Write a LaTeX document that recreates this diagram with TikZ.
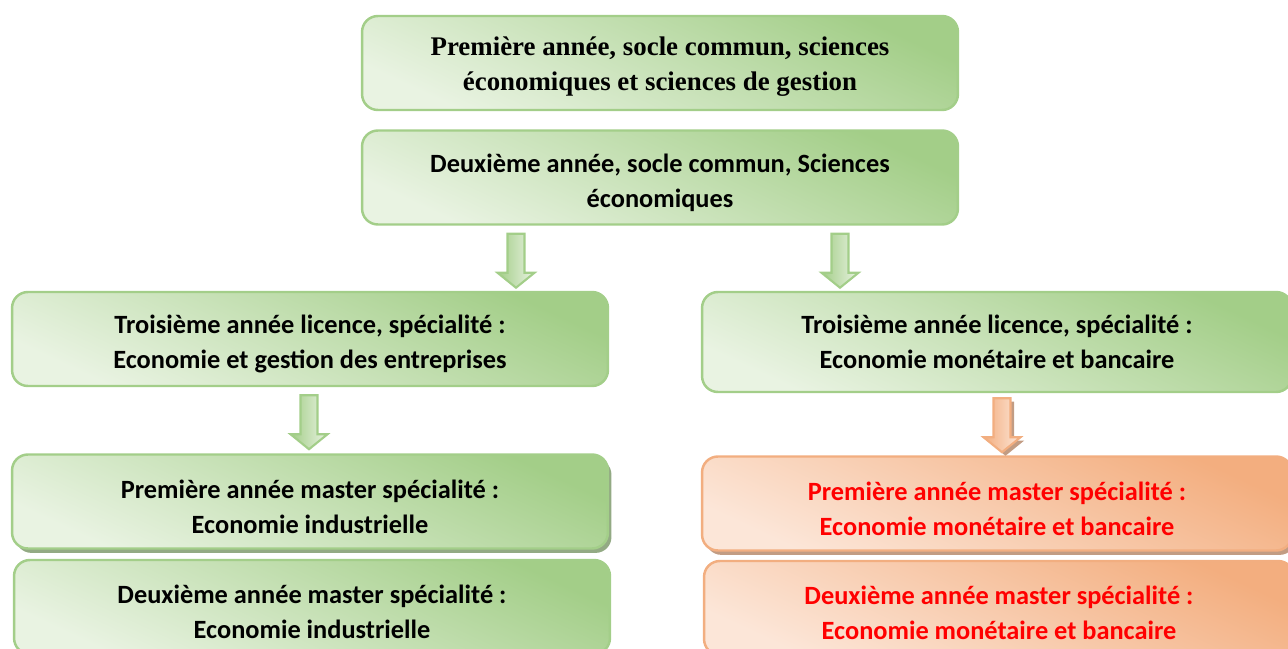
\documentclass[tikz,border=0pt]{standalone}
\usepackage{fontspec}
\setmainfont{Carlito}
\newfontfamily\timesfont{Liberation Serif}
\usetikzlibrary{shadows,calc}
\definecolor{vertBord}{HTML}{A3CE89}
\definecolor{vertFonce}{HTML}{A3CE88}
\definecolor{vertClair}{HTML}{E9F3E2}
\definecolor{orBord}{HTML}{F2AE80}
\definecolor{orFonce}{HTML}{F3AE7F}
\definecolor{orClair}{HTML}{FCE6D8}
\definecolor{ombreV}{HTML}{93AA84}
\definecolor{ombreO}{HTML}{C29C83}
\tikzset{
  boite/.style={draw=vertBord, line width=1.4pt, rounded corners=9pt,
    top color=vertFonce, bottom color=vertClair, shading angle=-25,
    align=center, font=\fontsize{15}{20}\selectfont\bfseries,
    minimum width=11.92cm, minimum height=1.88cm, inner sep=0pt, text height=1.27cm},
  boiteo/.style={boite, draw=orBord, top color=orFonce, bottom color=orClair,
    shading angle=-25, text=red},
  ombrev/.style={drop shadow={shadow xshift=2pt, shadow yshift=-2.5pt, fill=ombreV, opacity=1}},
  ombreo/.style={drop shadow={shadow xshift=2pt, shadow yshift=-2.5pt, fill=ombreO, opacity=1}},
  flechev/.style={draw=vertBord, line width=1.2pt, left color=vertFonce, right color=vertClair},
  flecheo/.style={draw=orBord, line width=1.2pt, left color=orFonce, right color=orClair,
    drop shadow={shadow xshift=2pt, shadow yshift=-2pt, fill=ombreO, opacity=1}}
}
% fleche pleine : point de depart en haut
\newcommand{\fleche}[2]{%
  \path[#1] (#2) ++(-8.5,0) -- ++(0,39) -- ++(-10,0) -- ++(18.5,15) -- ++(18.5,-15)
    -- ++(-10,0) -- ++(0,-39) -- cycle;}
\begin{document}
\begin{tikzpicture}[x=0.02cm, y=-0.02cm]
  \useasboundingbox (0,0) rectangle (1288,649);
  \node[boite, font=\timesfont\fontsize{15.3}{19.5}\selectfont\bfseries, text height=1.2cm] (an1) at (660,63)
    {Première année, socle commun, sciences\\économiques et sciences de gestion};
  \node[boite] (an2) at (660,177.5) {Deuxième année, socle commun, Sciences\\économiques};
  \node[boite] (l3g) at (310,339) {Troisième année licence, spécialité :\\Economie et gestion des entreprises};
  \node[boite, minimum height=2cm, minimum width=11.8cm, text height=1.05cm] (l3d) at (997,342)
    {Troisième année licence, spécialité :\\Economie monétaire et bancaire};
  \node[boite, ombrev] (m1g) at (310,501.5) {Première année master spécialité :\\Economie industrielle};
  \node[boite] (m2g) at (312,607) {Deuxième année master spécialité :\\Economie industrielle};
  \node[boiteo, ombreo, minimum width=11.8cm] (m1d) at (997,503.5)
    {Première année master spécialité :\\Economie monétaire et bancaire};
  \node[boiteo, minimum width=11.8cm] (m2d) at (999,608)
    {Deuxième année master spécialité :\\Economie monétaire et bancaire};
  % fleches
  \coordinate (f1) at ($(an2.south)+(-144,8)$);
  \coordinate (f2) at ($(an2.south)+(180,8)$);
  \coordinate (f3) at ($(l3g.south)+(-1,8)$);
  \coordinate (f4) at ($(l3d.south)+(5,5)$);
  \fleche{flechev}{f1}
  \fleche{flechev}{f2}
  \fleche{flechev}{f3}
  \fleche{flecheo}{f4}
\end{tikzpicture}
\end{document}
